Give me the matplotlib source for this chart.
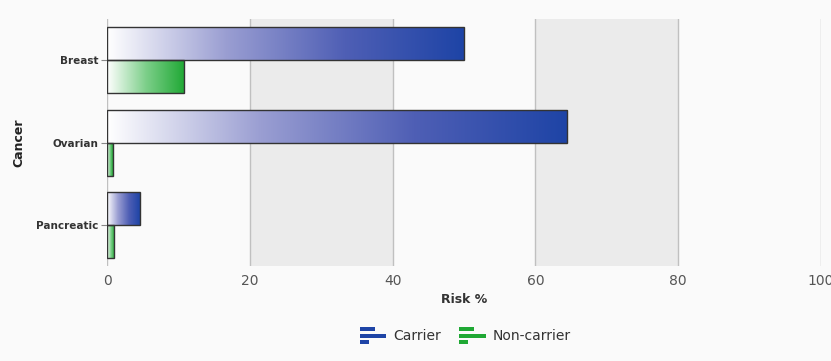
import matplotlib.pyplot as plt
import numpy as np
from matplotlib.colors import LinearSegmentedColormap
from matplotlib.legend_handler import HandlerBase
from matplotlib.patches import Rectangle

cancers = ["Breast", "Ovarian", "Pancreatic"]
carrier = [50, 64.5, 4.6]
non_carrier = [10.8, 0.8, 1.0]
xticks = [0, 20, 40, 60, 80, 100]

blue = "#1e44a6"
green = "#1fa834"
cmaps = {
    "Carrier": LinearSegmentedColormap.from_list("b", ["#ffffff", "#9a9ed2", "#4f5fb5", blue]),
    "Non-carrier": LinearSegmentedColormap.from_list("g", ["#ffffff", "#7dcf8a", green]),
}

bg = "#fafafa"
fig = plt.figure(figsize=(8.31, 3.61), dpi=100, facecolor=bg)
ax = fig.add_axes([0.1288, 0.263, 0.859, 0.684], facecolor=bg)

ypos = np.arange(len(cancers))
h = 0.4
gradient = np.linspace(0, 1, 256).reshape(1, -1)

for name, vals, off in [("Carrier", carrier, -h / 2), ("Non-carrier", non_carrier, h / 2)]:
    bars = ax.barh(ypos + off, vals, height=h, color="none", edgecolor="#333333",
                   linewidth=1.0, zorder=4)
    for b in bars:
        x0, y0 = b.get_x(), b.get_y()
        w, hh = b.get_width(), b.get_height()
        im = ax.imshow(gradient, cmap=cmaps[name], aspect="auto",
                       extent=[x0, x0 + w, y0, y0 + hh], zorder=3, interpolation="bicubic")
        im.set_clip_path(b)

# alternating bands
for a, c in [(20, 40), (60, 80)]:
    ax.axvspan(a, c, color="#ebebeb", zorder=0, lw=0)
for t in xticks:
    ax.axvline(t, color="#c0c0c0", lw=1.0, zorder=1)

ax.set_xlim(0, 100)
ax.set_ylim(len(cancers) - 0.5, -0.5)
ax.set_xticks(xticks)
ax.set_xticklabels([str(t) for t in xticks], color="#555555", fontsize=10)
ax.set_yticks(ypos)
ax.set_yticklabels(cancers, fontsize=7.5, color="#333333", fontweight="bold")
ax.tick_params(axis="x", length=0, pad=6)
ax.tick_params(axis="y", length=4, color="#888888", pad=2)
for s in ax.spines.values():
    s.set_visible(False)

ax.set_xlabel("Risk %", fontsize=9, fontweight="bold", color="#333333", labelpad=3)
ax.set_ylabel("Cancer", fontsize=9, fontweight="bold", color="#222222", labelpad=8)


class BarIcon(HandlerBase):
    def __init__(self, color):
        super().__init__()
        self.color = color

    def create_artists(self, legend, orig_handle, xdescent, ydescent, width, height, fontsize, trans):
        arts = []
        rh = height * 0.25
        gap = height * 0.12
        lens = [0.55, 1.0, 0.35]
        top = -ydescent + height
        for i, L in enumerate(lens):
            y = top - (i + 1) * rh - i * gap
            arts.append(Rectangle((-xdescent, y), width * L, rh, color=self.color,
                                  transform=trans, lw=0))
        return arts


handles = [Rectangle((0, 0), 1, 1), Rectangle((0, 0), 1, 1)]
fig.legend(handles, ["Carrier", "Non-carrier"], loc="center", bbox_to_anchor=(0.56, 0.07),
           ncol=2, frameon=False, fontsize=10, handlelength=1.9, handleheight=1.5,
           columnspacing=1.3, handletextpad=0.5, labelcolor="#333333",
           handler_map={handles[0]: BarIcon(blue), handles[1]: BarIcon(green)})

fig.savefig("out.png", dpi=100, facecolor=bg)
